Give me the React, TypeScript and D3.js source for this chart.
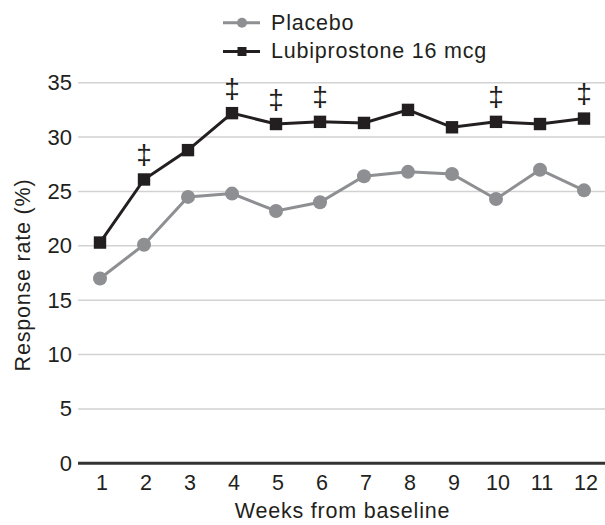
import React from "react";
import * as d3 from "d3";

const weeks = [1, 2, 3, 4, 5, 6, 7, 8, 9, 10, 11, 12];
const placebo = [17.0, 20.1, 24.5, 24.8, 23.2, 24.0, 26.4, 26.8, 26.6, 24.3, 27.0, 25.1];
const lubiprostone = [20.3, 26.1, 28.8, 32.2, 31.2, 31.4, 31.3, 32.5, 30.9, 31.4, 31.2, 31.7];
const significantWeeks = [2, 4, 5, 6, 10, 12];
const yTicks = [0, 5, 10, 15, 20, 25, 30, 35];
const seriesNames = ["Placebo", "Lubiprostone 16 mcg"];

const W = 605;
const H = 525;
const FONT = "'Liberation Sans', Arial, Helvetica, sans-serif";
const DARK = "#231f20";
const GRAY = "#8e8f92";

export default function App() {
  const x = d3.scaleLinear().domain([0.5, 12.5]).range([78, 606]);
  const y = d3.scaleLinear().domain([0, 35]).range([463.3, 82.7]);

  const line = d3
    .line<number>()
    .x((_, i) => x(weeks[i]))
    .y((d) => y(d));

  return (
    <svg
      width={W}
      height={H}
      style={{ position: "absolute", left: 0, top: 0, background: "#fff" }}
      fontFamily={FONT}
    >
      {/* gridlines */}
      {yTicks
        .filter((t) => t !== 0)
        .map((t) => (
          <line key={t} x1={78} x2={605} y1={y(t)} y2={y(t)} stroke="#d2d2d2" strokeWidth={1.5} />
        ))}
      {/* y tick labels */}
      {yTicks.map((t) => (
        <text
          key={"yl" + t}
          x={72}
          y={y(t)}
          textAnchor="end"
          dominantBaseline="central"
          fontSize={22}
          fill={DARK}
        >
          {t}
        </text>
      ))}
      {/* x axis line */}
      <line x1={78} x2={605} y1={y(0)} y2={y(0)} stroke="#333" strokeWidth={3} />
      {/* x tick labels */}
      {weeks.map((w) => (
        <text key={"xl" + w} x={x(w) + 2} y={489.5} textAnchor="middle" fontSize={21.5} fill={DARK}>
          {w}
        </text>
      ))}
      {/* axis titles */}
      <text x={342.5} y={517.5} textAnchor="middle" fontSize={21.5} letterSpacing={0.8} fill={DARK}>
        Weeks from baseline
      </text>
      <text
        transform={`translate(30,275) rotate(-90)`}
        textAnchor="middle"
        fontSize={21.5}
        letterSpacing={0.8}
        fill={DARK}
      >
        Response rate (%)
      </text>

      {/* placebo */}
      <path d={line(placebo) || ""} fill="none" stroke={GRAY} strokeWidth={3} />
      {placebo.map((v, i) => (
        <circle key={"p" + i} cx={x(weeks[i])} cy={y(v)} r={7} fill={GRAY} />
      ))}

      {/* lubiprostone */}
      <path d={line(lubiprostone) || ""} fill="none" stroke={DARK} strokeWidth={3} />
      {lubiprostone.map((v, i) => (
        <rect key={"l" + i} x={x(weeks[i]) - 6.2} y={y(v) - 6.2} width={12.4} height={12.4} fill={DARK} />
      ))}

      {/* significance markers */}
      {significantWeeks.map((w) => {
        const v = lubiprostone[weeks.indexOf(w)];
        return (
          <text
            key={"s" + w}
            x={x(w)}
            y={y(v) - 25}
            textAnchor="middle"
            dominantBaseline="central"
            fontSize={28}
            fill={DARK}
          >
            ‡
          </text>
        );
      })}

      {/* legend */}
      <g>
        <line x1={223} x2={260} y1={22.7} y2={22.7} stroke={GRAY} strokeWidth={3} />
        <circle cx={242} cy={22.7} r={5} fill={GRAY} />
        <text x={271} y={29.5} fontSize={21.5} letterSpacing={0.8} fill={DARK}>
          {seriesNames[0]}
        </text>
        <line x1={223} x2={260} y1={51.5} y2={51.5} stroke={DARK} strokeWidth={3} />
        <rect x={237.5} y={47} width={9} height={9} fill={DARK} />
        <text x={271} y={57.5} fontSize={21.5} letterSpacing={0.8} fill={DARK}>
          {seriesNames[1]}
        </text>
      </g>
    </svg>
  );
}
